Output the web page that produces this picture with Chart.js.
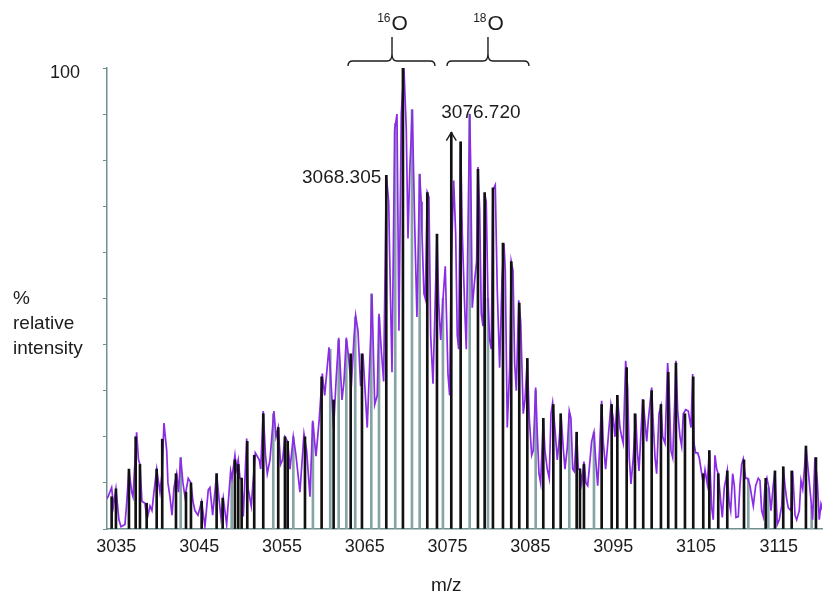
<!DOCTYPE html>
<html>
<head>
<meta charset="utf-8">
<title>relative intensity vs m/z</title>
<script src="https://cdn.jsdelivr.net/npm/chart.js@4.4.0/dist/chart.umd.min.js"></script>
<style>
html, body { margin: 0; padding: 0; background: #fff; }
#chart { display: block; }
</style>
</head>
<body>
<canvas id="chart" width="839" height="600"></canvas>
<script>
(function () {

// raw profile trace (purple), m/z and % relative intensity
var profileMz = [
	3033.62, 3033.99, 3034.43, 3034.65, 3034.95, 3035.31, 3035.56, 3036.04, 3036.22, 3036.52,
	3036.85, 3037.01, 3037.45, 3037.67, 3037.85, 3038.09, 3038.45, 3038.70, 3039.06, 3039.30,
	3039.54, 3039.87, 3040.27, 3040.51, 3040.75, 3041.08, 3041.23, 3041.47, 3041.72, 3041.96,
	3042.28, 3042.50, 3042.77, 3043.04, 3043.29, 3043.68, 3044.01, 3044.25, 3044.49, 3044.86,
	3045.30, 3045.70, 3046.10, 3046.30, 3046.63, 3047.11, 3047.43, 3047.63, 3047.91, 3048.32,
	3048.80, 3048.96, 3049.32, 3049.50, 3049.72, 3049.93, 3050.13, 3050.33, 3050.74, 3050.89,
	3051.29, 3051.78, 3052.26, 3052.43, 3052.74, 3053.01, 3053.23, 3053.55, 3054.03, 3054.28,
	3054.55, 3054.84, 3055.08, 3055.36, 3055.69, 3055.97, 3056.37, 3056.69, 3057.17, 3057.66,
	3057.98, 3058.38, 3058.71, 3059.11, 3059.51, 3059.87, 3060.16, 3060.68, 3061.24, 3061.56,
	3061.85, 3062.25, 3062.49, 3062.77, 3063.06, 3063.37, 3063.70, 3063.90, 3064.18, 3064.50,
	3064.78, 3065.30, 3065.71, 3065.87, 3066.20, 3066.51, 3066.72, 3066.99, 3067.28, 3067.60,
	3067.89, 3068.01, 3068.29, 3068.61, 3068.89, 3069.13, 3069.41, 3069.73, 3070.01, 3070.22,
	3070.42, 3070.74, 3071.03, 3071.30, 3071.63, 3071.82, 3071.91, 3072.15, 3072.31, 3072.55,
	3072.75, 3072.96, 3073.24, 3073.51, 3073.72, 3073.93, 3074.17, 3074.44, 3074.72, 3075.05,
	3075.25, 3075.45, 3075.74, 3075.98, 3076.17, 3076.34, 3076.58, 3076.78, 3077.07, 3077.26,
	3077.46, 3077.67, 3077.79, 3077.98, 3078.27, 3078.51, 3078.67, 3078.88, 3079.07, 3079.28,
	3079.48, 3079.67, 3079.88, 3080.08, 3080.28, 3080.48, 3080.76, 3081.00, 3081.29, 3081.57,
	3081.81, 3081.97, 3082.21, 3082.50, 3082.69, 3082.90, 3083.10, 3083.30, 3083.59, 3083.83,
	3084.14, 3084.35, 3084.63, 3084.87, 3085.16, 3085.35, 3085.64, 3085.83, 3086.04, 3086.24,
	3086.56, 3086.76, 3087.04, 3087.28, 3087.49, 3087.69, 3087.97, 3088.25, 3088.49, 3088.70,
	3088.97, 3089.18, 3089.46, 3089.70, 3089.90, 3090.11, 3090.30, 3090.59, 3090.79, 3090.99,
	3091.20, 3091.47, 3091.71, 3091.92, 3092.11, 3092.40, 3092.68, 3092.89, 3093.13, 3093.32,
	3093.61, 3093.80, 3094.09, 3094.41, 3094.73, 3095.01, 3095.22, 3095.50, 3095.82, 3096.03,
	3096.22, 3096.51, 3096.75, 3096.94, 3097.15, 3097.43, 3097.72, 3097.91, 3098.12, 3098.36,
	3098.56, 3098.76, 3099.05, 3099.24, 3099.65, 3099.84, 3100.05, 3100.25, 3100.53, 3100.77,
	3100.98, 3101.26, 3101.58, 3101.74, 3101.98, 3102.19, 3102.46, 3102.58, 3102.79, 3103.07,
	3103.27, 3103.47, 3103.76, 3104.07, 3104.40, 3104.60, 3104.76, 3104.96, 3105.21, 3105.40,
	3105.69, 3105.88, 3106.09, 3106.36, 3106.61, 3106.90, 3107.09, 3107.29, 3107.50, 3107.69,
	3108.02, 3108.18, 3108.42, 3108.62, 3108.78, 3108.99, 3109.19, 3109.43, 3109.63, 3109.83,
	3110.11, 3110.31, 3110.52, 3110.71, 3111.00, 3111.24, 3111.52, 3111.73, 3111.92, 3112.21,
	3112.52, 3112.73, 3112.93, 3113.13, 3113.33, 3113.57, 3113.82, 3114.06, 3114.33, 3114.54,
	3114.82, 3115.06, 3115.35, 3115.54, 3115.75, 3115.95, 3116.15, 3116.47, 3116.68, 3116.96,
	3117.16, 3117.48, 3117.68, 3117.89, 3118.08, 3118.28, 3118.56, 3118.85, 3119.09, 3119.37,
	3119.65, 3119.89, 3120.10, 3120.30
];
var profileInt = [
	6, 7, 9, 5, 8.7, 2, 0.5, 1, 5, 13,
	8, 7, 21, 15, 14, 6, 5.6, 2, 5, 4,
	8, 13, 8, 12, 23, 17, 10, 7, 3, 9,
	12, 8, 15.5, 10, 7, 11, 10, 6, 4, 3,
	6, 0.5, 8.5, 9, 3, 12, 6, 2.5, 6.7, 1,
	12.6, 11, 16, 13, 15, 11, 11, 2.7, 19.6, 9,
	5, 16.5, 15, 13, 25.6, 16, 12, 15, 25.6, 20,
	22, 14, 15, 20, 19, 13, 20, 16, 8, 20.6,
	17, 7, 23.5, 15.8, 24, 33.7, 29, 39.4, 22, 33,
	41.5, 28, 32, 41.5, 37, 30.7, 41.5, 46.3, 43, 31,
	38, 22, 41.5, 51, 27, 29, 46.7, 39, 32, 76.7,
	71, 59, 34, 86.5, 90, 43, 90, 100, 87, 63,
	77, 91, 66, 46, 77, 71, 64, 51, 50, 73,
	72, 42, 31.5, 49.6, 64, 49, 41, 49.6, 57, 33.6,
	29, 58, 75.6, 64, 42, 39, 84, 64, 48, 39,
	64, 90, 79, 48, 54, 58, 78.5, 69, 46.7, 44,
	72.8, 71, 49.6, 41, 39, 73.5, 74.6, 52, 35, 54,
	62, 56, 22, 35, 58, 56, 36, 30, 49.6, 45,
	25, 28, 37, 24, 16, 17, 30.7, 21, 12, 10,
	24, 17, 13, 11, 25, 27.4, 21.7, 15, 19.5, 25,
	17.6, 13, 17.6, 25.6, 24, 13, 12.5, 21, 13, 13,
	10, 14.6, 10, 9.4, 13, 19, 21, 15, 9.4, 15.8,
	27.8, 19, 13, 20, 27, 24, 20, 29, 22, 20,
	18.6, 36.5, 30.6, 15.5, 9.8, 15.5, 25, 17, 12.6, 21,
	28.2, 25, 19, 23.5, 30.7, 23, 15.5, 12, 25, 26.7,
	20, 18.6, 36, 31, 17, 15.5, 29, 36.5, 25.6, 20,
	18, 25, 25.9, 25.6, 22, 33.6, 18.6, 16.5, 16.5, 15.4,
	12, 9.8, 12.8, 9.8, 17, 4.6, 2, 16, 13, 12,
	5.4, 2.5, 9, 10.8, 12.6, 6, 4, 12, 9.4, 2.5,
	2.7, 9.4, 14, 15.2, 11, 11, 9.4, 7, 5, 9.4,
	11, 10.5, 4, 2.7, 9.4, 11, 8.7, 4, 9.4, 12.6,
	1, 2, 5, 13.5, 9.4, 6.5, 4.6, 4, 12.6, 3,
	2, 4, 10.5, 8.7, 12.6, 18, 12.6, 7, 2, 15.5,
	10.5, 2, 5.4, 4
];

// centroid sticks (black)
var stickMz = [
	3034.43, 3034.95, 3036.52, 3037.33, 3037.85, 3038.66, 3039.87, 3040.54, 3042.20, 3043.41,
	3044.01, 3045.30, 3047.11, 3047.84, 3049.32, 3049.72, 3050.13, 3050.81, 3051.65, 3052.74,
	3054.55, 3055.36, 3055.69, 3057.78, 3059.79, 3061.24, 3063.30, 3064.66, 3067.60, 3069.61,
	3072.55, 3073.72, 3075.45, 3076.58, 3078.67, 3079.48, 3080.48, 3081.69, 3082.69, 3083.66,
	3084.63, 3086.56, 3087.77, 3088.66, 3090.59, 3090.99, 3091.47, 3093.61, 3094.82, 3095.50,
	3096.63, 3097.63, 3098.63, 3099.65, 3100.77, 3101.65, 3102.58, 3103.67, 3104.67, 3105.88,
	3106.61, 3107.69, 3108.78, 3110.80, 3113.42, 3114.54, 3115.54, 3116.56, 3118.28, 3119.49
];
var stickInt = [
	7, 8.7, 13, 20, 14, 5.6, 13, 19.5, 12, 8,
	10, 6, 12, 6.7, 15, 14, 11, 19, 16, 25,
	22, 20, 19, 20, 33, 28, 38, 38, 76.7, 100,
	73, 64, 86, 84, 78, 73, 74, 62, 58, 49,
	37, 24, 27, 25, 21, 13, 14, 27, 27, 29,
	35, 25, 28, 30, 27, 34, 36, 25, 33, 12,
	17, 12, 12.6, 15, 11, 12.6, 13.5, 12.6, 18, 15.5
];

// second stick set (grey)
var shadeMz = [
	3042.77, 3048.93, 3053.95, 3056.37, 3058.74, 3060.83, 3061.85, 3062.77, 3063.85, 3065.79,
	3066.72, 3068.68, 3070.70, 3071.63, 3074.44, 3077.67, 3079.88, 3085.64, 3089.70, 3092.68,
	3111.32, 3113.73, 3118.97
];
var shadeInt = [
	15.5, 12, 25, 20, 23, 39, 41, 41, 46, 51,
	46, 88, 91, 77, 50, 90, 50, 30, 25, 21,
	11, 9, 5
];

var mzTicks = [3035, 3045, 3055, 3065, 3075, 3085, 3095, 3105, 3115];
var peakMz = [3067.60, 3075.45];
var peakText = ['3068.305', '3076.720'];
var clusterMass = ['16', '18'];
var clusterFrom = [3062.97, 3074.93];
var clusterTo = [3073.48, 3084.83];
var clusterTip = [3068.29, 3079.88];
var yText = ['%', 'relative', 'intensity'];

var purple = '#8a2be6';
var axisColor = '#6f9090';
var ink = '#1c1c1c';
var font = '"Liberation Sans", Arial, sans-serif';

function pairs(xs, ys) {
	var list = [];
	for (var i = 0, len = Math.min(xs.length, ys.length); i < len; i++) {
		list.push({ x: xs[i], y: ys[i] });
	}
	return list;
}

function brace(ctx, x1, x2, xm, yb, yt) {
	var r = 5;
	ctx.beginPath();
	ctx.moveTo(x1, yb + r);
	ctx.quadraticCurveTo(x1, yb, x1 + r, yb);
	ctx.lineTo(xm - r, yb);
	ctx.quadraticCurveTo(xm, yb, xm, yb - 7);
	ctx.lineTo(xm, yt);
	ctx.moveTo(xm, yb - 7);
	ctx.quadraticCurveTo(xm, yb, xm + r, yb);
	ctx.lineTo(x2 - r, yb);
	ctx.quadraticCurveTo(x2, yb, x2, yb + r);
	ctx.stroke();
}

var notes = {
	id: 'notes',
	afterDraw: function (chart) {
		var ctx = chart.ctx;
		var xs = chart.scales.x;
		var ys = chart.scales.y;
		ctx.save();
		ctx.fillStyle = ink;
		ctx.strokeStyle = ink;
		ctx.lineWidth = 1.4;

		// peak labels
		ctx.font = '19px ' + font;
		ctx.textBaseline = 'middle';
		var i = stickMz.indexOf(peakMz[0]);
		var px = xs.getPixelForValue(peakMz[0]);
		var py = ys.getPixelForValue(stickInt[i]);
		ctx.textAlign = 'right';
		ctx.fillText(peakText[0], px - 5, py + 2);

		i = stickMz.indexOf(peakMz[1]);
		px = xs.getPixelForValue(peakMz[1]);
		py = ys.getPixelForValue(stickInt[i]);
		ctx.textAlign = 'left';
		ctx.fillText(peakText[1], px - 10, py - 20);
		ctx.beginPath();
		ctx.moveTo(px - 5, py + 8);
		ctx.lineTo(px, py);
		ctx.lineTo(px + 5, py + 8);
		ctx.stroke();

		// isotope braces
		for (var k = 0; k < clusterMass.length; k++) {
			var xm = xs.getPixelForValue(clusterTip[k]);
			brace(ctx, xs.getPixelForValue(clusterFrom[k]), xs.getPixelForValue(clusterTo[k]), xm, 61, 37);
			ctx.textBaseline = 'alphabetic';
			ctx.textAlign = 'left';
			ctx.font = '12px ' + font;
			var w1 = ctx.measureText(clusterMass[k]).width;
			ctx.font = '21px ' + font;
			var w2 = ctx.measureText('O').width;
			var x0 = xm - (w1 + w2) / 2;
			ctx.font = '12px ' + font;
			ctx.fillText(clusterMass[k], x0, 22);
			ctx.font = '21px ' + font;
			ctx.fillText('O', x0 + w1 + 1, 30);
		}

		// axis titles
		ctx.font = '19px ' + font;
		ctx.textAlign = 'left';
		ctx.textBaseline = 'alphabetic';
		for (var j = 0; j < yText.length; j++) {
			ctx.fillText(yText[j], 13, 304 + j * 25);
		}
		ctx.fillText('m/z', 431, 591);
		ctx.restore();
	}
};

new Chart(document.getElementById('chart'), {
	type: 'bar',
	data: {
		datasets: [{
			type: 'bar',
			data: pairs(stickMz, stickInt),
			backgroundColor: '#111111',
			barThickness: 2,
			grouped: false,
			order: 0
		}, {
			type: 'line',
			data: pairs(profileMz, profileInt),
			borderColor: purple,
			borderWidth: 1.7,
			pointRadius: 0,
			tension: 0,
			fill: false,
			order: 1
		}, {
			type: 'bar',
			data: pairs(shadeMz, shadeInt),
			backgroundColor: '#86a4a4',
			barThickness: 2,
			grouped: false,
			order: 2
		}]
	},
	options: {
		responsive: false,
		animation: false,
		layout: { padding: { top: 68, right: 17, bottom: 0, left: 0 } },
		plugins: {
			legend: { display: false },
			tooltip: { enabled: false }
		},
		scales: {
			x: {
				type: 'linear',
				offset: false,
				min: 3033.87,
				max: 3120.22,
				afterBuildTicks: function (scale) {
					scale.ticks = mzTicks.map(function (v) { return { value: v }; });
				},
				afterFit: function (scale) { scale.height = 71; },
				grid: { display: false, drawTicks: false, offset: false },
				border: { color: axisColor, width: 1.5 },
				ticks: {
					padding: 7,
					maxRotation: 0,
					autoSkip: false,
					color: ink,
					font: { family: font, size: 18 },
					callback: function (v) { return String(v); }
				}
			},
			y: {
				type: 'linear',
				min: 0,
				max: 100,
				afterFit: function (scale) { scale.width = 107; },
				grid: { drawOnChartArea: false, drawTicks: true, tickLength: 4, color: axisColor },
				border: { color: axisColor, width: 1.5 },
				ticks: {
					stepSize: 10,
					padding: 23,
					labelOffset: 5,
					color: ink,
					font: { family: font, size: 18 },
					callback: function (v) { return v === 100 ? '100' : ''; }
				}
			}
		}
	},
	plugins: [notes]
});

}());
</script>
</body>
</html>
